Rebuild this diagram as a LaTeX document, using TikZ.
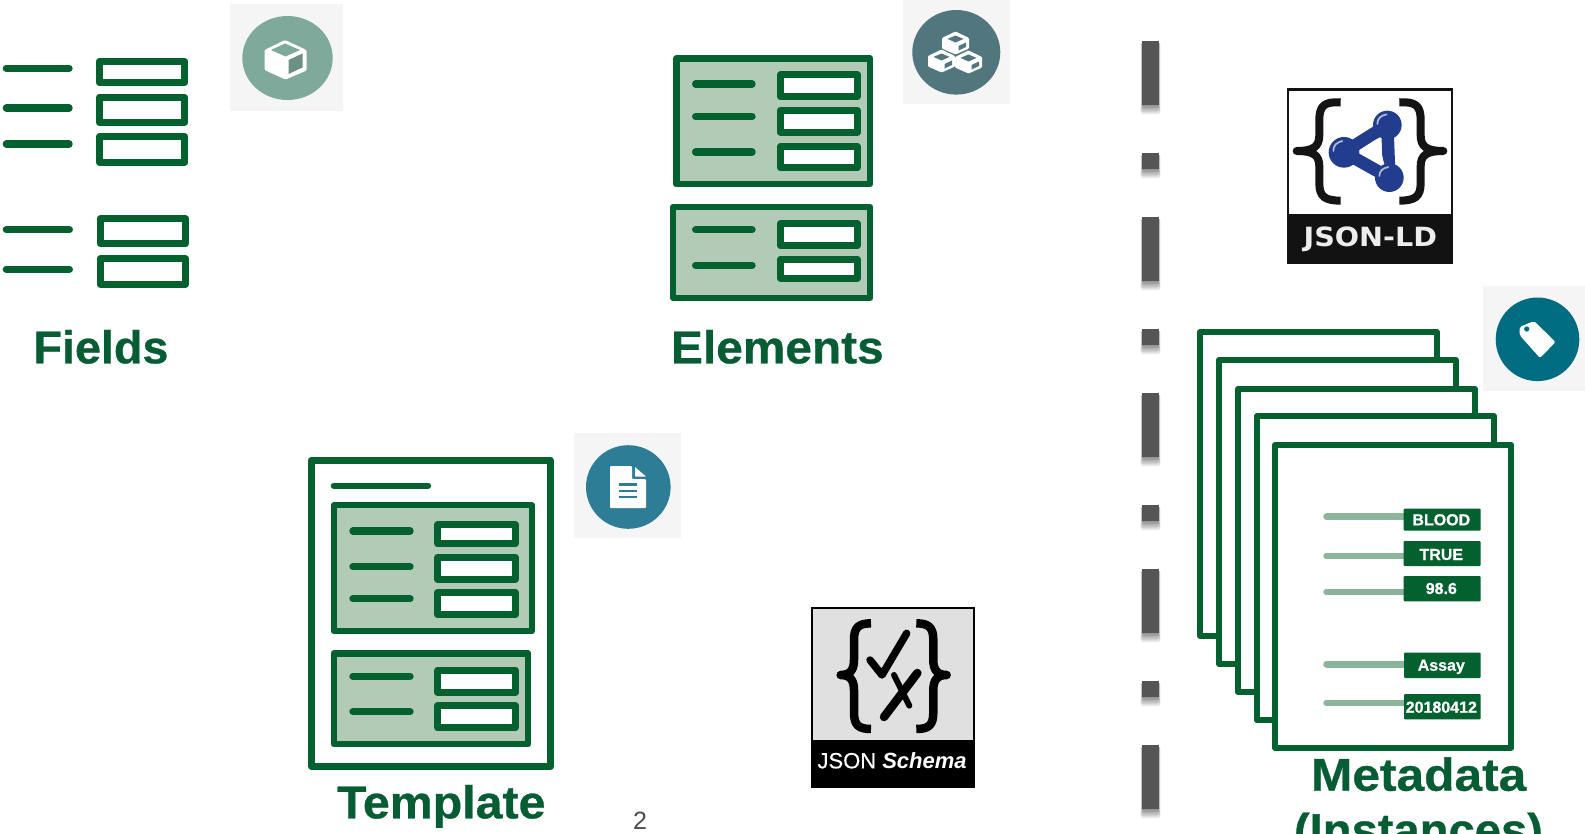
\documentclass[tikz,border=0pt]{standalone}
\usepackage{fontspec}
\setmainfont{Liberation Sans}
\newfontfamily\djbold{DejaVu Sans}[BoldFont={DejaVu Sans Bold}]
\newfontface\hvb{Liberation Sans Bold}[FakeBold=0.6]
\newfontface\hvmed{Liberation Sans}[FakeBold=0.5]
\newfontface\hvbi{Liberation Sans Bold Italic}
\definecolor{dgreen}{HTML}{03602F}
\definecolor{txtgreen}{HTML}{065C33}
\definecolor{boxfill}{HTML}{B1CBB6}
\definecolor{palegreen}{HTML}{8DB59B}
\definecolor{iconbg}{HTML}{F5F5F5}
\definecolor{icfield}{HTML}{7FAA9B}
\definecolor{icelem}{HTML}{51767E}
\definecolor{icdoc}{HTML}{2C7D95}
\definecolor{ictag}{HTML}{006C82}
\definecolor{dashc}{HTML}{555555}
\definecolor{ldblue}{HTML}{233D8E}
\tikzset{
  fline/.style={draw=dgreen,line width=7.2pt,line cap=round},
  title/.style={anchor=base west,inner sep=0pt,outer sep=0pt,text=txtgreen,font=\fontsize{46}{46}\selectfont\hvb},
  tagtext/.style={anchor=base,inner sep=0pt,outer sep=0pt,text=white,font=\fontsize{16}{16}\selectfont\hvb},
  tagbox/.style={fill=dgreen,rounded corners=1pt},
  brace/.style={line width=#1,line cap=butt,line join=round},
}
\newcommand{\fieldln}[3]{\draw[fline] (#1+3.6,#3) -- (#2-3.6,#3);}
\newcommand{\inbox}[4]{\draw[draw=dgreen,fill=white,line width=7pt,line join=round] (#1+3.5,#2+3.5) rectangle (#3-3.5,#4-3.5);}
\newcommand{\palebox}[4]{\draw[draw=dgreen,fill=boxfill,line width=6.2pt,line join=round] (#1+3.1,#2+3.1) rectangle (#3-3.1,#4-3.1);}
\newcommand{\sheet}[4]{\draw[draw=dgreen,fill=white,line width=6pt,line join=round] (#1+3,#2+3) rectangle (#3-3,#4-3);}
\newcommand{\ldash}[2]{%
  \foreach \i in {0,...,8}{\fill[black,opacity=.055,rounded corners=1.5pt] (1142.3-1.6+\i*.2,#1+1) rectangle (1158.7+1.6-\i*.2,#2+9-\i);}
  \fill[dashc] (1142.3,#1) rectangle (1158.7,#2);}
\newcommand{\isocube}[4]{%
  \begin{scope}[shift={(#1,#2)},scale=#3]
    \fill[white,rounded corners=1pt] (0,-11) -- (13.5,-4.5) -- (13.5,6) -- (0,12) -- (-13.5,6) -- (-13.5,-4.5) -- cycle;
    \fill[#4] (0,-7) -- (8,-3.6) -- (0,0) -- (-8,-3.6) -- cycle;
    \fill[#4] (3,3.5) -- (10.5,0) -- (10.5,4.5) -- (3,8) -- cycle;
  \end{scope}}
\begin{document}
\begin{tikzpicture}[x=1pt,y=-1pt]
\useasboundingbox (0,0) rectangle (1585,833);
\fill[white] (0,0) rectangle (1585,833);
\begin{scope}
\clip (0,0) rectangle (1585,833);

% ---------- Fields
\fieldln{2.7}{72.7}{68.3}\fieldln{2.7}{72.7}{108}\fieldln{2.7}{72.7}{144}
\fieldln{2.7}{73}{229.7}\fieldln{2.7}{73}{269.3}
\inbox{96}{57.7}{188.3}{86.3}\inbox{96}{93.7}{188.3}{126}\inbox{96}{133.3}{188.3}{165.7}
\inbox{96.7}{215.3}{189}{247.3}\inbox{96.7}{255.3}{189}{287.7}
\node[title,xscale=1.015] (fields) at (33.5,363.3) {Fields};

% ---------- Field icon
\fill[iconbg] (230,4) rectangle (343,111);
\fill[icfield] (287.5,58) ellipse [x radius=45.2,y radius=42];
\fill[white,rounded corners=1.2pt] (285,40) -- (306.5,50) -- (306.7,70.5) -- (285.5,79.5) -- (264.5,70) -- (264.5,50) -- cycle;
\fill[icfield] (285,43.5) -- (300,50) -- (285.5,56.5) -- (271,50) -- cycle;
\fill[icfield!85!black] (288.5,60) -- (302.5,53.5) -- (302.5,67.5) -- (288.5,74) -- cycle;

% ---------- Elements
\palebox{673.3}{55.3}{873.3}{187.3}
\fieldln{692}{755.7}{84}\fieldln{692}{755.7}{116.7}\fieldln{692}{755.7}{152}
\inbox{777}{71.3}{860.7}{100.3}\inbox{777}{107}{860.7}{135.7}\inbox{777}{142.7}{860.7}{171.3}
\palebox{670}{203.7}{873.3}{301}
\fieldln{692}{755.7}{229.7}\fieldln{692}{755.7}{265.3}
\inbox{777}{220}{860.7}{249.3}\inbox{777}{255.7}{860.7}{281.7}
\node[title,xscale=1.04] (elements) at (671,363.3) {Elements};

% ---------- Elements icon
\fill[iconbg] (902.7,0) rectangle (1010,103.7);
\fill[icelem] (956.3,52.3) ellipse [x radius=44,y radius=42.3];
\isocube{955.5}{42.5}{1}{icelem}
\isocube{941.5}{60.5}{1}{icelem}
\isocube{968.5}{61.5}{1}{icelem}

% ---------- Template
\inbox{308}{456.7}{554}{770}
\draw[fline,line width=6.4pt] (333.9,485.7) -- (428,485.7);
\palebox{330.7}{502}{534.7}{634.3}
\fieldln{349.3}{413.7}{531}\fieldln{349.3}{413.7}{566.7}\fieldln{349.3}{413.7}{598.7}
\inbox{434.3}{521.3}{518.7}{547.3}\inbox{434.3}{553.7}{518.7}{582.7}\inbox{434.3}{589.3}{518.7}{618.3}
\palebox{330.7}{650.3}{531.3}{747.3}
\fieldln{349.3}{413.7}{676.3}\fieldln{349.3}{413.7}{711.7}
\inbox{434.3}{666.7}{518.7}{696}\inbox{434.3}{702.3}{518.7}{731.3}
\node[title,xscale=1.05] (template) at (337,818.3) {Template};
\node[anchor=base,inner sep=0pt,text=black!70,font=\fontsize{25}{25}\selectfont] (page) at (640,829.5) {2};

% ---------- Template icon
\fill[iconbg] (574,433.3) rectangle (681,538.3);
\fill[icdoc] (628.3,487) ellipse [x radius=42.3,y radius=41.8];
\fill[white,rounded corners=1pt] (610,466) -- (632,466) -- (632,479) -- (646,479) -- (646,508) -- (610,508) -- cycle;
\fill[white,rounded corners=.5pt] (635,467) -- (646,476.5) -- (635,476.5) -- cycle;
\foreach \yy in {484.3,490.7,497}{\draw[icdoc,line width=2.4pt] (619.3,\yy) -- (636.7,\yy);}

% ---------- Divider
\foreach \yy in {41.3,217.3,393.3,569.3,745.3}{\ldash{\yy}{\yy+64}}
\foreach \yy in {153.3,329.3,505.3,681.3}{\ldash{\yy}{\yy+16}}

% ---------- JSON-LD logo
\fill[black!93] (1286.7,87.7) rectangle (1453.3,264.3);
\fill[white] (1289.3,90.5) rectangle (1450.7,214);
\begin{scope}[shift={(1270,70)},x=0.3333pt,y=-0.3333pt]
  \draw[brace=8pt,draw=black!92] (212,97) .. controls (165,95) and (148,105) .. (148,150) -- (148,195) .. controls (148,230) and (130,243) .. (80,243) .. controls (130,243) and (148,255) .. (148,290) -- (148,340) .. controls (148,380) and (165,392) .. (212,392);
  \draw[brace=8pt,draw=black!92] (388,97) .. controls (435,95) and (452,105) .. (452,150) -- (452,195) .. controls (452,230) and (470,243) .. (520,243) .. controls (470,243) and (452,255) .. (452,290) -- (452,340) .. controls (452,380) and (435,392) .. (388,392);
  \draw[draw=ldblue,line width=12.5pt,line join=round] (352,165) -- (222,247) -- (358,323) -- cycle;
  \fill[white,rounded corners=1.5pt] (264,243) -- (322,206) -- (345,290) -- cycle;
  \fill[ldblue] (352,165) circle [radius=43];
  \fill[ldblue] (222,247) circle [radius=46];
  \fill[ldblue] (358,323) circle [radius=43];
  \draw[white!65!ldblue,line width=1.7pt,line cap=round] (322,162) .. controls (322,146) and (332,136) .. (350,133);
  \draw[white!65!ldblue,line width=1.7pt,line cap=round] (190,243) .. controls (190,226) and (200,217) .. (217,213);
  \draw[white!65!ldblue,line width=1.7pt,line cap=round] (328,318) .. controls (328,304) and (338,294) .. (355,291);
\end{scope}
\node[anchor=base,inner sep=0pt,xscale=1.08,text=white!93!black,font=\fontsize{26.5}{26.5}\selectfont\djbold\bfseries] (jsonld) at (1370.3,246.7) {JSON-LD};

% ---------- Metadata stack
\sheet{1197}{329}{1439.7}{638.7}
\sheet{1216}{357}{1458.7}{666.7}
\sheet{1235}{386}{1477.7}{695}
\sheet{1254}{413}{1496.7}{723.3}
\sheet{1272}{442}{1514.3}{750.7}
\foreach \yy in {516.7,556,592,664.3,703}{\draw[palegreen,line width=6.5pt,line cap=round] (1326.5,\yy) -- (1408,\yy);}
\fill[tagbox] (1403.7,508.7) rectangle (1480.7,530.7);
\fill[tagbox] (1403.7,541) rectangle (1480.7,566);
\fill[tagbox] (1403.7,576) rectangle (1480.7,601.3);
\fill[tagbox] (1404,652.7) rectangle (1480.7,678);
\fill[tagbox] (1404,694) rectangle (1480.7,719.3);
\node[tagtext] (t1) at (1441.3,525.3) {BLOOD};
\node[tagtext] (t2) at (1441.3,560) {TRUE};
\node[tagtext] (t3) at (1441.3,594) {98.6};
\node[tagtext] (t4) at (1441.3,670.7) {Assay};
\node[tagtext] (t5) at (1441.3,712.7) {20180412};
\node[title,xscale=1.08] (meta) at (1311,790.7) {Metadata};
\node[title,xscale=1.025] (inst) at (1294,846) {(Instances)};

% ---------- Tag icon
\fill[iconbg] (1483.3,286) rectangle (1585,390.7);
\fill[ictag] (1537.5,339.3) circle [radius=41.8];
\fill[white,rounded corners=2pt] (1519.5,327) -- (1534,321) -- (1555.5,342) -- (1540,358) -- (1519.5,335) -- cycle;
\fill[ictag] (1526.7,329) circle [radius=2.6];

% ---------- JSON Schema logo
\fill[black] (810.7,607) rectangle (975,788.3);
\fill[black!12] (812.8,609.2) rectangle (972.8,739.5);
\begin{scope}[shift={(790,595)},x=0.3333pt,y=-0.3333pt]
  \draw[brace=8.5pt,draw=black] (243,85) .. controls (205,85) and (192,98) .. (192,135) -- (192,195) .. controls (192,225) and (180,240) .. (152,240) .. controls (180,240) and (192,255) .. (192,285) -- (192,352) .. controls (192,390) and (205,402) .. (243,402);
  \draw[brace=8.5pt,draw=black] (379,85) .. controls (417,85) and (430,98) .. (430,135) -- (430,195) .. controls (430,225) and (442,240) .. (470,240) .. controls (442,240) and (430,255) .. (430,285) -- (430,352) .. controls (430,390) and (417,402) .. (379,402);
  \draw[black,line width=7.5pt,line cap=round,line join=round] (240,195) -- (276,240) -- (350,115);
  \draw[black,line width=8.5pt,line cap=round] (382,234) -- (282,366);
  \draw[black,line width=6pt,line cap=round] (312,240) -- (358,332);
\end{scope}
\node[anchor=base west,inner sep=0pt,text=white,font=\fontsize{22}{22}\selectfont] (jschema) at (817.3,768.3) {{\hvmed JSON} {\hvbi Schema}};
\end{scope}
\end{tikzpicture}
\end{document}
